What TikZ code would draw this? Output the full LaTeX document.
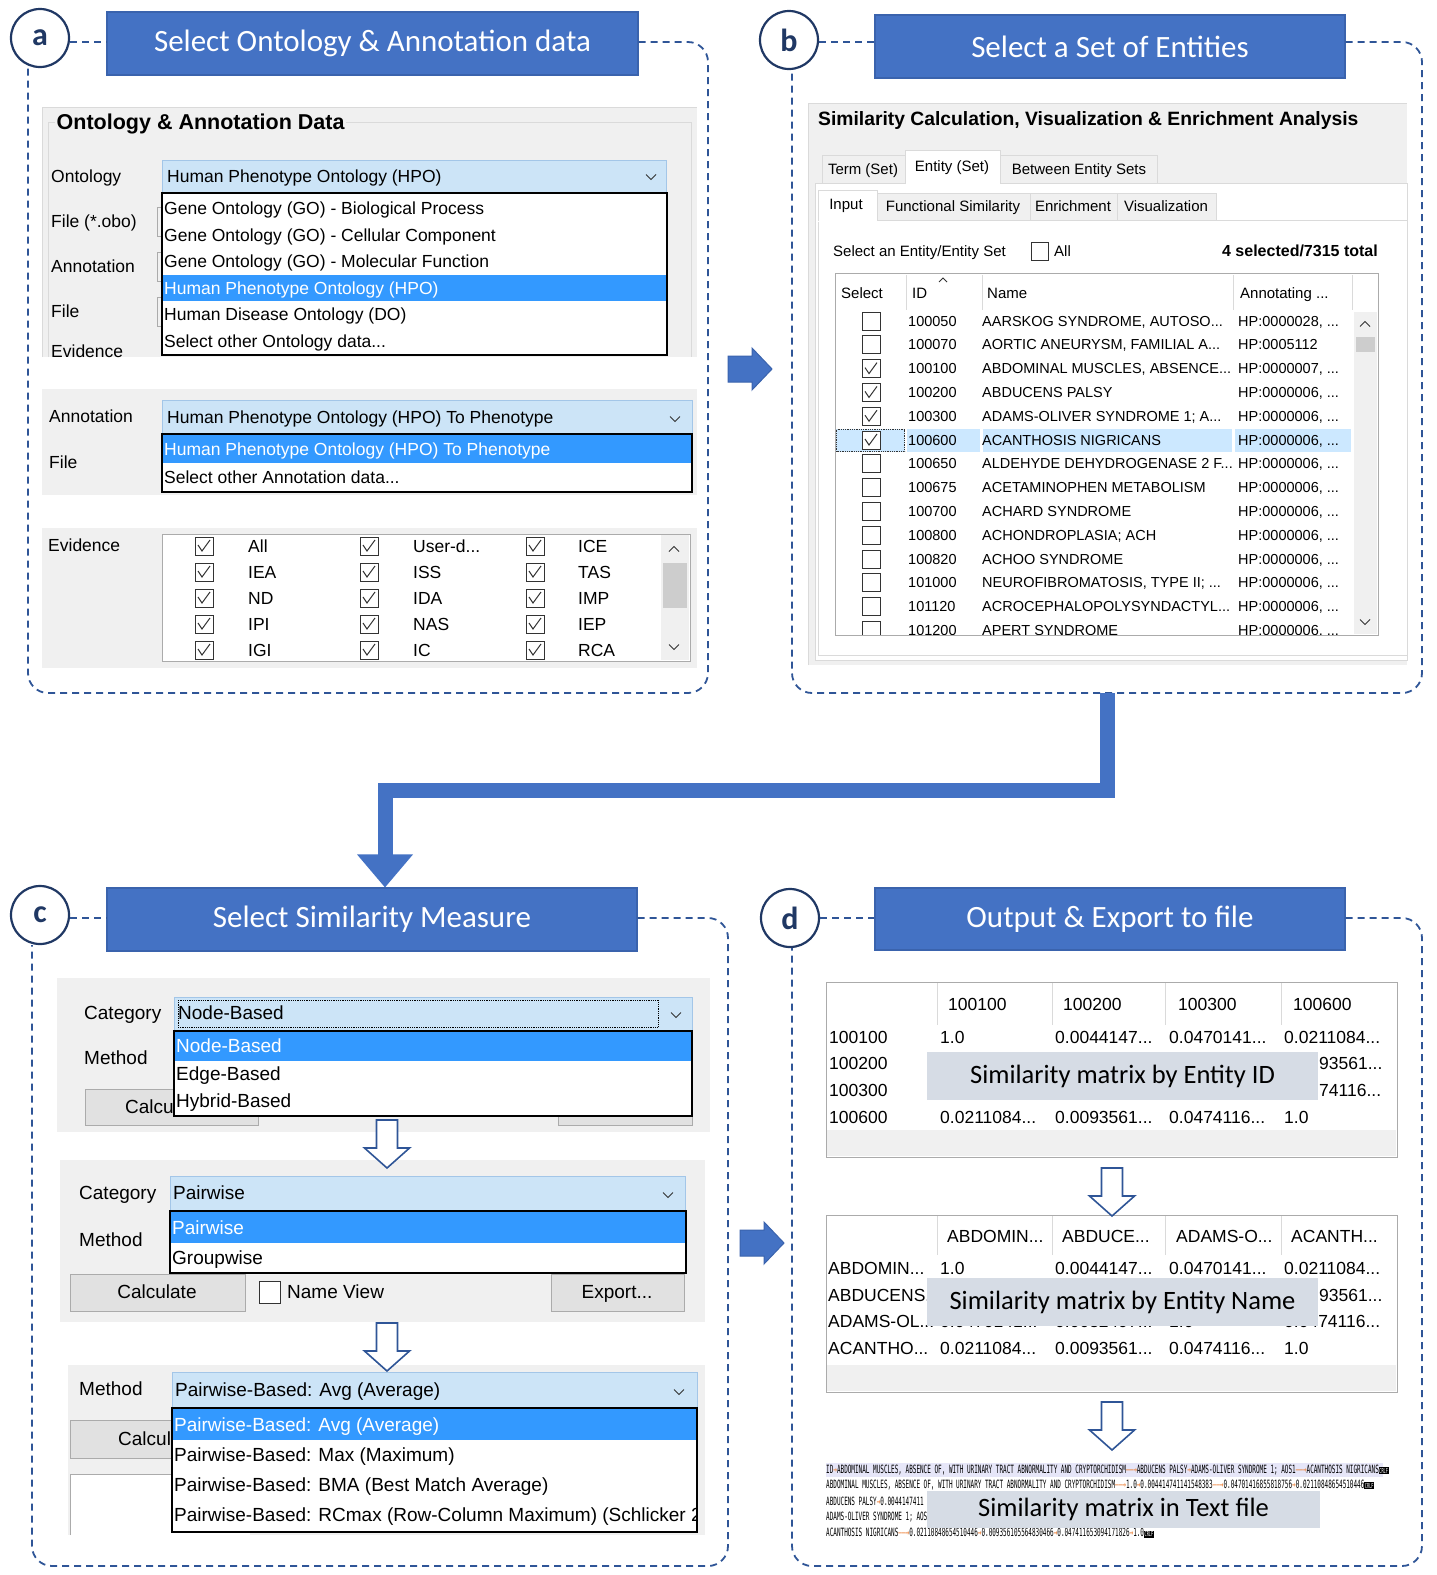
\documentclass[tikz,border=0pt]{standalone}
\usepackage{fontspec}
\setmainfont{Carlito}
\newfontfamily\uifont{Liberation Sans}
\newfontfamily\txtfont{DejaVu Sans Mono}
\usetikzlibrary{calc}

\definecolor{tbBlue}{HTML}{4472C4}
\definecolor{tbEdge}{HTML}{3A63AD}
\definecolor{dashBlue}{HTML}{2F5597}
\definecolor{navy}{HTML}{203864}
\definecolor{winBg}{HTML}{F0F0F0}
\definecolor{comboFill}{HTML}{CCE4F7}
\definecolor{comboEdge}{HTML}{A3C6E8}
\definecolor{selBlue}{HTML}{3399FF}
\definecolor{rowSel}{HTML}{CCE8FF}
\definecolor{frameGray}{HTML}{ABABAB}
\definecolor{lightLine}{HTML}{DADADA}
\definecolor{ovFill}{HTML}{D6DCE5}
\definecolor{tabArrow}{HTML}{ED7D31}
\definecolor{lineMark}{HTML}{E6E6F8}
\definecolor{btnFill}{HTML}{E1E1E1}
\definecolor{thumbGray}{HTML}{CDCDCD}
\definecolor{boxGray}{HTML}{333333}

% truncation dots used inside \foreach lists
\newcommand\trdots{...}
% tab characters and line ends of the exported text file
\newcommand\tabto{\textcolor{tabArrow}{→}}
\newcommand\tablong{\textcolor{tabArrow}{——→}}
\newcommand\crlfmark{{\setlength\fboxsep{0.5pt}\colorbox{black}{\textcolor{white}{\fontsize{3.6}{3.6}\selectfont CRLF}}}}

\tikzset{
  titlebox/.style={draw=tbEdge, line width=1.2pt, fill=tbBlue, text=white, inner sep=0pt,
    font=\fontsize{31}{34}\selectfont},
  badge/.style={circle, draw=navy, line width=2.2pt, fill=white, minimum size=58pt, inner sep=0pt,
    text=navy, font=\bfseries\fontsize{32}{34}\selectfont},
  frame/.style={draw=dashBlue, line width=1.8pt, dash pattern=on 7pt off 5pt},
  flow/.style={draw=tbBlue, line width=15pt},
  uiA/.style={anchor=base west, yshift=-6pt, inner sep=0pt, font=\uifont\fontsize{17.5}{20}\selectfont},
  uiAhead/.style={anchor=base west, yshift=-7.5pt, inner sep=1.5pt, fill=winBg,
    font=\uifont\bfseries\fontsize{21.5}{24}\selectfont},
  uiB/.style={anchor=base west, yshift=-5.2pt, inner sep=0pt, font=\uifont\fontsize{15}{17}\selectfont},
  uiBc/.style={uiB, anchor=base},
  uiBt/.style={anchor=base west, yshift=-5pt, inner sep=0pt, font=\uifont\fontsize{14.5}{16}\selectfont},
  uiBhead/.style={anchor=base west, yshift=-6.5pt, inner sep=0pt, font=\uifont\bfseries\fontsize{19.3}{22}\selectfont},
  uiBbold/.style={anchor=base east, yshift=-5.5pt, inner sep=0pt, font=\uifont\bfseries\fontsize{16}{18}\selectfont},
  uiC/.style={anchor=base west, yshift=-6.7pt, inner sep=0pt, font=\uifont\fontsize{19}{22}\selectfont},
  uiCc/.style={uiC, anchor=base},
  uiD/.style={anchor=base west, yshift=-6pt, inner sep=0pt, font=\uifont\fontsize{17.5}{20}\selectfont},
  ovbox/.style={fill=ovFill, inner sep=0pt, minimum width=391pt, minimum height=48pt,
    font=\fontsize{26.5}{29}\selectfont},
  txline/.style={anchor=west, inner sep=0pt},
  combo/.style={draw=comboEdge, fill=comboFill, line width=1pt},
  dlist/.style={draw=black, fill=white, line width=1.3pt},
  btn/.style={draw=frameGray, fill=btnFill, line width=1pt},
  checkbox/.pic={\draw[boxGray, line width=0.9pt, fill=white] (-9,-9) rectangle (9,9);},
  checkmark/.pic={\draw[boxGray, line width=1pt] (-6,-1) -- (-2,5) -- (6,-6);},
  chevdown/.pic={\draw[boxGray, line width=1pt] (-5,-2.5) -- (0,2.5) -- (5,-2.5);},
  chevup/.pic={\draw[boxGray, line width=1pt] (-5,2.5) -- (0,-2.5) -- (5,2.5);},
  hollowdown/.pic={\draw[dashBlue, line width=1.6pt, fill=white]
    (-10.5,0) -- (10.5,0) -- (10.5,28) -- (22.5,28) -- (0,48) -- (-22.5,28) -- (-10.5,28) -- cycle;},
  blockright/.pic={\draw[tbEdge, fill=tbBlue, line width=1pt]
    (0,-13) -- (24,-13) -- (24,-21) -- (44,0) -- (24,21) -- (24,13) -- (0,13) -- cycle;}
}

\begin{document}
\begin{tikzpicture}[x=1pt,y=-1pt]
\useasboundingbox[fill=white] (0,0) rectangle (1437,1575);

% ================= headers and dashed frames =================
\node[badge] (ca) at (40,38) {a};
\node[titlebox, minimum width=531pt, minimum height=63pt] (ta) at (372.5,43.5) {Select Ontology \& Annotation data};
\draw[frame] ([yshift=-4pt]ca.east) -- ([yshift=-4pt]ca.east -| ta.west);
\draw[frame, rounded corners=20pt] ([yshift=1.5pt]ta.east) -| (708,693) -| ([xshift=-12pt]ca.south);

\node[badge] (cb) at (789,40) {b};
\node[titlebox, minimum width=470pt, minimum height=63pt] (tb) at (1110,46.5) {Select a Set of Entities};
\draw[frame] ([yshift=-2pt]cb.east) -- ([yshift=-2pt]cb.east -| tb.west);
\draw[frame, rounded corners=20pt] ([yshift=4.5pt]tb.east) -| (1422,693) -| ([xshift=3pt]cb.south);

\node[badge] (cc) at (40,915) {c};
\node[titlebox, minimum width=530pt, minimum height=63pt] (tc) at (372,919.5) {Select Similarity Measure};
\draw[frame] ([yshift=-3pt]cc.east) -- ([yshift=-3pt]cc.east -| tc.west);
\draw[frame, rounded corners=20pt] ([yshift=1.5pt]tc.east) -| (728,1566) -| ([xshift=-8pt]cc.south);

\node[badge] (cd) at (790,918) {d};
\node[titlebox, minimum width=470pt, minimum height=62pt] (td) at (1110,919) {Output \& Export to file};
\draw[frame] (cd.east) -- (cd.east -| td.west);
\draw[frame, rounded corners=20pt] ([yshift=1pt]td.east) -| (1422,1566) -| ([xshift=2pt]cd.south);

% step connectors
\pic at (728,369) {blockright};
\pic at (740,1243) {blockright};
\coordinate (bOut) at (1107,693);
\coordinate (cIn) at ($(tc.north)+(13,-30)$);
\draw[flow] (bOut) -- ++(0,97) -| (cIn);
\fill[tbBlue] ($(cIn)+(-28,-3)$) -- ($(cIn)+(28,-3)$) -- ($(tc.north)+(13,0)$) -- cycle;

% ================= panel a =================
\fill[winBg] (42,107) rectangle (697,357);
\draw[lightLine, line width=1pt] (42,357) -- (42,107) -- (697,107);
\draw[lightLine] (48,357) -- (48,122) -- (691,122) -- (691,357);
\node[uiAhead] (aHead) at (55,122) {Ontology \& Annotation Data};
\node[uiA] (aOntL) at (51,176) {Ontology};
\node[uiA] (aFileL) at (51,221) {File (*.obo)};
\node[uiA] (aAnnL) at (51,266) {Annotation};
\node[uiA] (aFile2L) at (51,311) {File};
\node[uiA] (aEvL) at (51,351) {Evidence};
\foreach \fy in {207,252,297} \draw[frameGray] (166,\fy) -| (157,\fy+29) -- (166,\fy+29);
\draw[combo] (162,160) rectangle (666,192);
\node[uiA] (aOntVal) at (167,176) {Human Phenotype Ontology (HPO)};
\pic at (651,177) {chevdown};
\draw[dlist] (162,193) rectangle (667,355);
\fill[selBlue] (163,275) rectangle (666,301);
\node[uiA] (aOpt1) at (164,208) {Gene Ontology (GO) - Biological Process};
\node[uiA] (aOpt2) at (164,235) {Gene Ontology (GO) - Cellular Component};
\node[uiA] (aOpt3) at (164,261) {Gene Ontology (GO) - Molecular Function};
\node[uiA, text=white] (aOpt4) at (164,288) {Human Phenotype Ontology (HPO)};
\node[uiA] (aOpt5) at (164,314) {Human Disease Ontology (DO)};
\node[uiA] (aOpt6) at (164,341) {Select other Ontology data...};

\fill[winBg] (42,389) rectangle (697,495);
\node[uiA] (aAnnL2) at (49,416) {Annotation};
\node[uiA] (aFileL3) at (49,462) {File};
\draw[combo] (162,400) rectangle (692,433);
\node[uiA] (aAnnVal) at (167,417) {Human Phenotype Ontology (HPO) To Phenotype};
\pic at (675,419) {chevdown};
\draw[dlist] (162,434) rectangle (692,492);
\fill[selBlue] (163,435) rectangle (691,463);
\node[uiA, text=white] (aAnnOpt1) at (164,449) {Human Phenotype Ontology (HPO) To Phenotype};
\node[uiA] (aAnnOpt2) at (164,477) {Select other Annotation data...};

\fill[winBg] (42,528) rectangle (697,668);
\node[uiA] (aEvL2) at (48,545) {Evidence};
\draw[frameGray, fill=white] (162,534) rectangle (690,661);
\begin{scope}
  \clip (163,535) rectangle (689,660);
  \foreach \j/\la/\lb/\lc in {0/All/{User-d\trdots}/ICE, 1/IEA/ISS/TAS, 2/ND/IDA/IMP, 3/IPI/NAS/IEP, 4/IGI/IC/RCA} {
    \pgfmathsetmacro\ey{546+26*\j}
    \foreach \cx in {204,369,535} {\pic at (\cx,\ey) {checkbox}; \pic at (\cx,\ey) {checkmark};}
    \node[uiA] (evA\j) at (248,\ey) {\la};
    \node[uiA] (evB\j) at (413,\ey) {\lb};
    \node[uiA] (evC\j) at (578,\ey) {\lc};
  }
  \fill[winBg] (661,535) rectangle (689,660);
  \fill[thumbGray] (663,563) rectangle (687,608);
\end{scope}
\pic at (674,549) {chevup};
\pic at (674,647) {chevdown};

% ================= panel b =================
\fill[winBg] (808,103) rectangle (1407,665);
\draw[lightLine, line width=1pt] (808,665) -- (808,103) -- (1407,103);
\node[uiBhead] (bHead) at (818,119) {Similarity Calculation, Visualization \& Enrichment Analysis};
\draw[lightLine, fill=winBg] (822,155) rectangle (905,183);
\draw[lightLine, fill=winBg] (1000,155) rectangle (1157,183);
\draw[lightLine, fill=white] (815,183) rectangle (1407,660);
\fill[white] (905,150) rectangle (1000,184.5);
\draw[lightLine] (905,184) -- (905,150) -- (1000,150) -- (1000,184);
\node[uiBc] (bTab1) at (863,169) {Term (Set)};
\node[uiBc] (bTab2) at (952,166) {Entity (Set)};
\node[uiBc] (bTab3) at (1079,169) {Between Entity Sets};
\draw[lightLine, fill=winBg] (877,193) rectangle (1030,220);
\draw[lightLine, fill=winBg] (1030,193) rectangle (1117,220);
\draw[lightLine, fill=winBg] (1117,193) rectangle (1216,220);
\draw[lightLine, fill=white] (818,220) rectangle (1407,655);
\fill[white] (818,190) rectangle (877,221.5);
\draw[lightLine] (818,221) -- (818,190) -- (877,190) -- (877,221);
\node[uiBc] (bSub1) at (846,204) {Input};
\node[uiBc] (bSub2) at (953,206) {Functional Similarity};
\node[uiBc] (bSub3) at (1073,206) {Enrichment};
\node[uiBc] (bSub4) at (1166,206) {Visualization};
\node[uiB] (bSelL) at (833,251) {Select an Entity/Entity Set};
\draw[boxGray, line width=0.9pt, fill=white] (1031,242) rectangle (1048,260);
\node[uiB] (bAll) at (1054,251) {All};
\node[uiBbold] (bCount) at (1378,251) {4 selected/7315 total};
\draw[frameGray, fill=white] (835,273) rectangle (1378,635);
\foreach \x in {906,982,1233,1352} \draw[lightLine] (\x,275) -- (\x,310);
\node[uiB] (bColSel) at (841,293) {Select};
\node[uiB] (bColId) at (912,293) {ID};
\node[uiB] (bColNm) at (987,293) {Name};
\node[uiB] (bColAn) at (1240,293) {Annotating ...};
\draw[boxGray, line width=0.8pt] (939,282) -- (943,278) -- (947,282);
\begin{scope}
  \clip (836,311) rectangle (1353,634);
  \fill[rowSel] (836,429) rectangle (905,452);
  \draw[boxGray, line width=0.8pt, densely dotted] (836.5,429.5) rectangle (904.5,451.5);
  \fill[rowSel] (907,429) rectangle (980,452);
  \fill[rowSel] (983,429) rectangle (1232,452);
  \fill[rowSel] (1235,429) rectangle (1351,452);
  \foreach \i/\rid/\rname/\rann/\rchk in {
    0/100050/{AARSKOG SYNDROME, AUTOSO\trdots}/{HP:0000028, \trdots}/0,
    1/100070/{AORTIC ANEURYSM, FAMILIAL A\trdots}/{HP:0005112}/0,
    2/100100/{ABDOMINAL MUSCLES, ABSENCE\trdots}/{HP:0000007, \trdots}/1,
    3/100200/{ABDUCENS PALSY}/{HP:0000006, \trdots}/1,
    4/100300/{ADAMS-OLIVER SYNDROME 1; A\trdots}/{HP:0000006, \trdots}/1,
    5/100600/{ACANTHOSIS NIGRICANS}/{HP:0000006, \trdots}/1,
    6/100650/{ALDEHYDE DEHYDROGENASE 2 F\trdots}/{HP:0000006, \trdots}/0,
    7/100675/{ACETAMINOPHEN METABOLISM}/{HP:0000006, \trdots}/0,
    8/100700/{ACHARD SYNDROME}/{HP:0000006, \trdots}/0,
    9/100800/{ACHONDROPLASIA; ACH}/{HP:0000006, \trdots}/0,
    10/100820/{ACHOO SYNDROME}/{HP:0000006, \trdots}/0,
    11/101000/{NEUROFIBROMATOSIS, TYPE II; \trdots}/{HP:0000006, \trdots}/0,
    12/101120/{ACROCEPHALOPOLYSYNDACTYL\trdots}/{HP:0000006, \trdots}/0,
    13/101200/{APERT SYNDROME}/{HP:0000006, \trdots}/0} {
    \pgfmathsetmacro\ry{321+23.8*\i}
    \pic at (871,\ry) {checkbox};
    \ifnum\rchk=1 \pic at (871,\ry) {checkmark};\fi
    \node[uiBt] (bid\i) at (908,\ry) {\rid};
    \node[uiBt] (bnm\i) at (982,\ry) {\rname};
    \node[uiBt] (bhp\i) at (1238,\ry) {\rann};
  }
\end{scope}
\fill[winBg] (1354,312) rectangle (1377,634);
\fill[thumbGray] (1356,337) rectangle (1375,352);
\pic at (1365,324) {chevup};
\pic at (1365,622) {chevdown};

% ================= panel c =================
\fill[winBg] (57,978) rectangle (710,1132);
\node[uiC] (cCatL) at (84,1013) {Category};
\node[uiC] (cMetL) at (84,1058) {Method};
\draw[btn] (85,1089) rectangle (258,1125);
\node[uiC] (cCalc1) at (125,1107) {Calcu};
\draw[btn] (558,1089) rectangle (692,1125);
\draw[combo] (174,997) rectangle (692,1030);
\draw[black, line width=0.8pt, densely dotted] (178,1000) rectangle (658,1027);
\node[uiC] (cCatVal) at (178,1013) {Node-Based};
\pic at (676,1015) {chevdown};
\draw[dlist] (174,1031) rectangle (692,1116);
\fill[selBlue] (175,1032) rectangle (691,1061);
\node[uiC, text=white] (cOptN) at (176,1046) {Node-Based};
\node[uiC] (cOptE) at (176,1074) {Edge-Based};
\node[uiC] (cOptH) at (176,1101) {Hybrid-Based};

\fill[winBg] (60,1160) rectangle (705,1322);
\node[uiC] (cCatL2) at (79,1193) {Category};
\draw[combo] (170,1176) rectangle (685,1210);
\node[uiC] (cCatVal2) at (173,1193) {Pairwise};
\pic at (668,1195) {chevdown};
\node[uiC] (cMetL2) at (79,1240) {Method};
\draw[dlist] (170,1211) rectangle (686,1273);
\fill[selBlue] (171,1212) rectangle (685,1243);
\node[uiC, text=white] (cOptP) at (172,1228) {Pairwise};
\node[uiC] (cOptG) at (172,1258) {Groupwise};
\draw[btn] (70,1274) rectangle (245,1311);
\node[uiCc] (cCalc2) at (157,1292) {Calculate};
\draw[boxGray, line width=0.9pt, fill=white] (259,1281) rectangle (280,1303);
\node[uiC] (cNameView) at (287,1292) {Name View};
\draw[btn] (551,1274) rectangle (684,1311);
\node[uiCc] (cExport) at (617,1292) {Export...};

\fill[winBg] (68,1365) rectangle (705,1535);
\node[uiC] (cMetL3) at (79,1389) {Method};
\draw[btn] (70,1420) rectangle (250,1458);
\node[uiC] (cCalc3) at (118,1439) {Calcul};
\fill[white] (70,1474) rectangle (250,1535);
\draw[frameGray, line width=1pt] (70,1535) -- (70,1474) -- (250,1474);
\draw[combo] (172,1372) rectangle (697,1407);
\node[uiC] (cMetVal) at (175,1390) {Pairwise-Based: Avg (Average)};
\pic at (679,1392) {chevdown};
\draw[dlist] (172,1408) rectangle (697,1532);
\begin{scope}
  \clip (173,1409) rectangle (696,1531);
  \fill[selBlue] (173,1409) rectangle (696,1440);
  \node[uiC, text=white] (cM1) at (174,1425) {Pairwise-Based: Avg (Average)};
  \node[uiC] (cM2) at (174,1455) {Pairwise-Based: Max (Maximum)};
  \node[uiC] (cM3) at (174,1485) {Pairwise-Based: BMA (Best Match Average)};
  \node[uiC] (cM4) at (174,1515) {Pairwise-Based: RCmax (Row-Column Maximum) (Schlicker 2};
\end{scope}

% steps between the three dialogs
\pic at (387,1120) {hollowdown};
\pic at (387,1323) {hollowdown};

% ================= panel d =================
\draw[frameGray, fill=white] (826,982) rectangle (1397,1157);
\fill[winBg] (827,1130) rectangle (1396,1156);
\foreach \x in {937,1052,1165,1281} \draw[lightLine] (\x,983) -- (\x,1025);
\node[uiD] (dh1) at (948,1004) {100100};
\node[uiD] (dh2) at (1063,1004) {100200};
\node[uiD] (dh3) at (1178,1004) {100300};
\node[uiD] (dh4) at (1293,1004) {100600};
\node[uiD] (dr1) at (829,1037) {100100};
\node[uiD] (dr2) at (829,1063) {100200};
\node[uiD] (dr3) at (829,1090) {100300};
\node[uiD] (dr4) at (829,1117) {100600};
\node[uiD] (d11) at (940,1037) {1.0};
\node[uiD] (d12) at (1055,1037) {0.0044147...};
\node[uiD] (d13) at (1169,1037) {0.0470141...};
\node[uiD] (d14) at (1284,1037) {0.0211084...};
\node[uiD] (d24) at (1319,1063) {93561...};
\node[uiD] (d34) at (1319,1090) {74116...};
\node[uiD] (d41) at (940,1117) {0.0211084...};
\node[uiD] (d42) at (1055,1117) {0.0093561...};
\node[uiD] (d43) at (1169,1117) {0.0474116...};
\node[uiD] (d44) at (1284,1117) {1.0};
\node[ovbox] (ovId) at (1122.5,1076) {Similarity matrix by Entity ID};

\draw[frameGray, fill=white] (826,1215) rectangle (1397,1392);
\fill[winBg] (827,1365) rectangle (1396,1391);
\foreach \x in {937,1052,1165,1281} \draw[lightLine] (\x,1216) -- (\x,1255);
\node[uiD] (nh1) at (947,1236) {ABDOMIN...};
\node[uiD] (nh2) at (1062,1236) {ABDUCE...};
\node[uiD] (nh3) at (1176,1236) {ADAMS-O...};
\node[uiD] (nh4) at (1291,1236) {ACANTH...};
\node[uiD] (nr1) at (828,1268) {ABDOMIN...};
\node[uiD] (nr2) at (828,1295) {ABDUCENS..};
\node[uiD] (nr3) at (828,1321) {ADAMS-OL...};
\node[uiD] (nr4) at (828,1348) {ACANTHO...};
\node[uiD] (n11) at (940,1268) {1.0};
\node[uiD] (n12) at (1055,1268) {0.0044147...};
\node[uiD] (n13) at (1169,1268) {0.0470141...};
\node[uiD] (n14) at (1284,1268) {0.0211084...};
\node[uiD] (n24) at (1319,1295) {93561...};
\node[uiD] (n31) at (940,1321) {0.0470141...};
\node[uiD] (n32) at (1055,1321) {0.0082497...};
\node[uiD] (n33) at (1169,1321) {1.0};
\node[uiD] (n34) at (1284,1321) {0.0474116...};
\node[uiD] (n41) at (940,1348) {0.0211084...};
\node[uiD] (n42) at (1055,1348) {0.0093561...};
\node[uiD] (n43) at (1169,1348) {0.0474116...};
\node[uiD] (n44) at (1284,1348) {1.0};
\node[ovbox] (ovName) at (1122.5,1302) {Similarity matrix by Entity Name};

\fill[lineMark] (826,1463) rectangle (1383,1477);
\node[txline] (tx1) at (826,1470) {\scalebox{1}[1.9]{\txtfont\fontsize{6}{7}\selectfont ID\tabto ABDOMINAL MUSCLES, ABSENCE OF, WITH URINARY TRACT ABNORMALITY AND CRYPTORCHIDISM\tablong ABDUCENS PALSY\tabto ADAMS-OLIVER SYNDROME 1; AOS1\tablong ACANTHOSIS NIGRICANS\crlfmark}};
\node[txline] (tx2) at (826,1485) {\scalebox{1}[1.9]{\txtfont\fontsize{6}{7}\selectfont ABDOMINAL MUSCLES, ABSENCE OF, WITH URINARY TRACT ABNORMALITY AND CRYPTORCHIDISM\tablong 1.0\tabto 0.004414741141548383\tablong 0.04701416855818756\tabto 0.02110848654510446\crlfmark}};
\node[txline] (tx3) at (826,1501) {\scalebox{1}[1.9]{\txtfont\fontsize{6}{7}\selectfont ABDUCENS PALSY\tabto 0.0044147411}};
\node[txline] (tx4) at (826,1517) {\scalebox{1}[1.9]{\txtfont\fontsize{6}{7}\selectfont ADAMS-OLIVER SYNDROME 1; AOS1}};
\node[txline] (tx5) at (826,1533) {\scalebox{1}[1.9]{\txtfont\fontsize{6}{7}\selectfont ACANTHOSIS NIGRICANS\tablong 0.02110848654510446\tabto 0.009356105564830466\tabto 0.047411653094171826\tabto 1.0\crlfmark}};
\node[ovbox, minimum width=393pt, minimum height=37pt] (ovText) at (1123.5,1509.5) {Similarity matrix in Text file};

% steps between the outputs
\pic at (1112,1168) {hollowdown};
\pic at (1112,1402) {hollowdown};

\end{tikzpicture}
\end{document}
